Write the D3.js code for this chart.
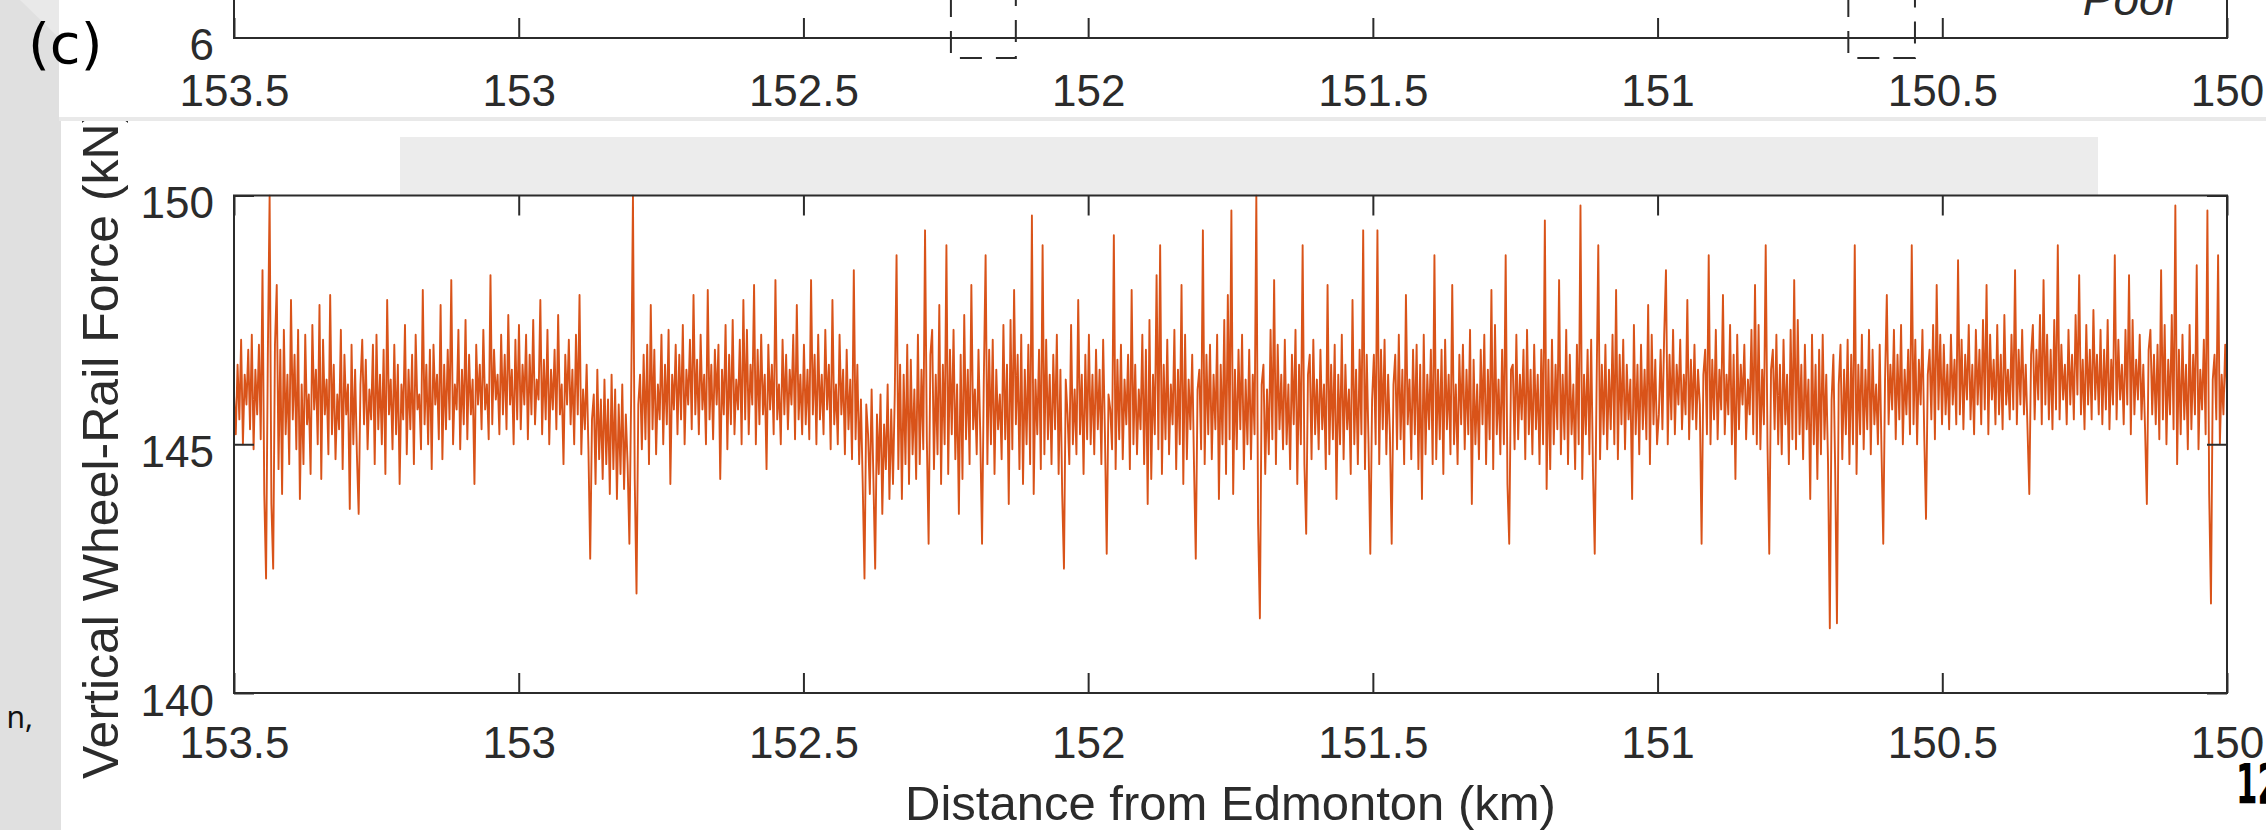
<!DOCTYPE html>
<html><head><meta charset="utf-8">
<script src="https://cdn.jsdelivr.net/npm/d3@7"></script>
<style>
html,body{margin:0;padding:0;background:#e0e0e0;overflow:hidden}
svg{display:block}
.tick text{font-family:"Liberation Sans",Arial,sans-serif;fill:#2b2b2b}
</style></head>
<body>
<svg id="chart" width="2266" height="830"></svg>
<script>
// ---------- data ----------
const xTicks = [153.5, 153, 152.5, 152, 151.5, 151, 150.5, 150];
const yTicks = [140, 145, 150];
const topYTicks = [6];
const distStart = 153.5, distEnd = 150;
const poorZones = [[152.241, 152.127], [150.665, 150.548]];
const poorLabel = "Poor";
const xLabel = "Distance from Edmonton (km)";
const yLabel = "Vertical Wheel-Rail Force (kN)";

// vertical wheel-rail force (kN), one list per half-kilometre
const force153_5 = [
146.0,145.2,146.6,145.5,147.1,145.0,146.4,145.8,146.9,145.3,
147.2,144.9,146.5,145.6,147.0,145.1,148.5,144.0,142.3,146.8,
150.0,143.8,142.5,147.0,148.2,144.5,146.9,144.0,147.3,145.2,
146.4,144.6,147.9,145.5,146.8,144.9,147.3,143.9,146.2,144.6,
147.2,145.4,146.0,144.4,147.4,145.7,146.5,145.0,147.8,144.3,
147.1,145.6,146.3,144.8,148.0,145.2,146.6,144.7,146.0,145.3,
147.3,144.5,146.8,145.6,146.2,143.7,147.0,145.0,146.5,144.8,
143.6,146.2,147.1,145.4,146.7,144.9,146.1,145.5,147.0,144.6,
147.2,145.3,146.4,145.0,146.9,144.4,147.9,145.6,146.3,144.9,
147.0,145.2,146.6,144.2,146.2,145.5,147.4,144.8,146.5,145.3,
146.8,144.6,147.2,145.7,146.0,144.9,148.1,145.4,146.6,145.0,
146.9,144.5,147.0,145.8,146.4,145.1,147.8,144.7,146.6,145.3,
146.9,145.5,148.3,145.0,146.2,145.7,147.3,144.9,146.5,145.4,
147.5,145.1,146.8,145.6,146.3,144.2,147.0,145.8,146.6,145.3,
147.3,145.7,146.2,145.1,148.4,145.4,146.9,145.9,146.4,145.2,
147.2,145.6,146.8,145.3,147.6,145.8,146.5,145.0,147.1,145.5];
const force153_0 = [
147.4,145.3,146.6,145.8,147.2,145.1,146.8,145.6,147.5,145.4,
146.3,145.9,147.9,145.2,146.7,145.5,147.3,145.0,146.5,145.7,
146.9,145.3,147.6,145.6,146.2,144.6,146.8,145.8,147.1,145.4,
146.5,145.0,147.2,145.6,148.0,144.8,146.1,145.3,146.6,144.9,
142.7,145.5,146.0,144.2,146.5,144.7,145.9,144.3,146.3,144.6,
145.9,144.0,146.4,144.5,146.1,143.9,145.8,144.4,146.2,144.1,
145.6,144.6,143.0,146.0,150.0,144.3,142.0,145.8,146.4,144.9,
146.8,145.1,147.0,144.6,147.8,145.3,146.9,144.8,146.2,145.5,
147.2,145.0,146.6,145.4,147.3,144.2,146.4,145.7,147.0,145.2,
146.8,145.5,147.4,145.0,146.5,145.8,147.1,145.3,148.0,145.6,
146.7,145.2,147.2,145.7,146.4,145.0,148.1,145.5,146.6,145.1,
146.9,145.8,147.0,144.3,146.5,145.6,147.4,144.9,146.8,145.4,
147.5,145.2,146.3,145.7,147.1,145.0,147.9,145.5,147.3,145.2,
146.6,145.8,148.2,145.0,146.9,145.4,147.2,145.6,146.4,144.5,
147.0,145.7,146.6,145.2,148.3,145.5,146.2,145.0,147.1,145.6,
146.8,145.3,146.5,145.8,147.2,145.1,147.8,145.5,146.4,145.2];
const force152_5 = [
147.0,145.4,146.5,145.1,148.3,145.6,146.8,145.0,147.2,145.5,
146.4,145.2,147.3,145.7,146.6,144.9,147.9,145.4,146.2,145.0,
147.2,145.6,146.5,144.8,146.9,145.3,146.3,144.7,148.5,145.1,
146.6,144.6,145.9,144.2,142.3,145.8,145.2,144.0,146.1,144.3,
142.5,145.6,144.4,146.0,143.6,145.4,144.5,146.2,143.9,145.7,
144.2,146.0,148.8,144.5,146.6,143.9,146.4,144.6,147.0,144.2,
146.7,144.8,146.1,144.3,147.2,144.6,146.5,144.9,149.3,145.1,
143.0,146.8,147.3,144.5,146.4,144.8,147.8,144.2,146.6,145.0,
149.0,144.4,146.9,145.2,147.3,144.7,146.2,143.6,146.8,144.3,
147.6,145.1,146.5,144.6,148.2,145.3,146.1,144.8,146.9,145.2,
143.0,146.3,148.8,144.6,146.9,145.0,147.1,144.4,146.5,145.3,
146.0,144.7,147.4,145.1,146.6,143.8,147.5,144.9,148.1,145.4,
146.8,144.5,147.2,144.2,146.5,145.0,147.0,144.6,149.6,144.0,
146.3,145.2,146.9,144.5,149.0,144.8,147.1,145.1,146.4,144.6,
146.8,145.3,147.2,144.4,146.5,144.0,142.5,146.3,145.6,144.6,
147.4,145.0,146.1,144.8,147.9,145.2,146.4,144.4,146.8,145.1];
const force152_0 = [
147.2,145.0,146.4,144.8,146.9,145.3,146.5,144.6,147.1,145.2,
142.8,146.0,145.7,144.9,149.2,144.5,146.7,145.1,147.0,144.7,
146.3,145.4,146.8,144.5,148.1,145.0,146.6,144.8,146.1,145.3,
147.2,144.6,146.9,143.8,147.5,144.3,146.4,145.2,148.4,144.9,
149.0,144.4,146.6,145.1,147.1,144.8,146.2,145.4,147.3,144.5,
146.5,145.0,148.2,144.2,147.2,144.7,146.3,145.3,146.8,144.6,
142.7,146.1,146.5,144.9,149.3,144.6,146.8,145.2,147.0,144.7,
146.4,145.3,147.2,143.9,146.6,145.0,147.5,144.4,148.0,145.1,
149.7,144.0,146.5,144.9,146.9,145.3,147.2,144.5,146.3,145.0,
146.9,144.7,146.4,145.2,150.0,143.4,141.5,146.2,146.6,144.4,
146.1,144.8,147.3,145.1,148.3,144.6,147.0,145.3,146.4,144.9,
147.1,145.0,146.2,144.5,146.8,145.4,147.3,144.2,146.6,145.0,
149.0,144.6,143.2,146.4,146.8,144.7,147.1,145.2,146.3,144.9,
146.9,145.3,146.2,144.5,148.2,144.8,146.6,145.1,147.0,143.9,
146.4,145.0,147.2,144.7,146.6,145.3,146.1,144.4,147.9,145.0,
146.5,144.6,146.9,145.2,149.3,144.5,146.8,145.0,142.8,145.9];
const force151_5 = [
146.8,145.0,149.3,144.6,146.9,145.3,147.1,144.8,146.4,145.2,
143.0,146.2,146.8,144.9,147.2,145.1,146.5,144.6,148.0,145.4,
146.3,144.7,146.9,145.2,147.0,144.5,146.6,143.9,147.2,144.8,
146.4,145.3,146.9,144.6,148.8,144.7,146.5,145.1,146.9,144.4,
147.1,145.3,146.4,144.8,148.2,145.0,146.2,144.6,146.8,145.4,
147.0,144.9,146.5,145.2,147.3,143.8,146.7,145.0,146.2,144.7,
146.9,145.4,147.2,144.6,146.5,145.1,148.1,144.5,147.4,145.2,
146.3,144.8,146.9,145.0,148.8,144.2,143.0,146.5,146.6,144.9,
147.2,145.1,146.4,145.5,146.9,144.7,147.3,145.2,146.5,144.8,
147.0,145.3,146.4,144.6,146.9,145.0,149.5,144.1,146.7,144.5,
147.1,145.0,146.6,145.3,148.3,144.8,146.4,145.1,147.3,144.6,
146.8,145.2,146.2,144.5,147.0,145.0,149.8,144.3,146.4,145.2,
146.9,144.8,147.1,144.5,142.8,146.0,149.0,144.7,146.6,145.2,
147.0,144.9,146.5,145.3,147.2,145.0,148.1,144.7,146.8,145.4,
147.1,144.9,146.6,145.5,146.3,143.9,147.4,145.2,146.6,144.8,
147.0,145.3,146.5,145.1,147.8,144.6,147.2,145.4,146.7,145.0];
const force151_0 = [
145.6,146.9,145.3,147.2,148.5,145.0,146.8,145.5,147.3,145.2,
146.6,145.8,147.1,145.3,146.4,145.6,147.9,145.1,146.7,145.5,
147.0,145.3,146.5,145.8,143.0,146.4,146.9,145.2,148.8,145.0,
146.7,145.5,147.3,145.1,146.5,145.7,148.0,145.2,146.4,145.6,
147.4,145.0,146.8,144.3,147.2,145.3,146.6,145.8,147.0,145.1,
146.3,145.6,147.3,145.2,148.2,145.0,147.4,144.9,146.5,145.4,
149.0,145.0,142.8,146.5,146.9,145.3,147.2,145.0,146.6,144.8,
147.1,145.4,146.4,144.6,147.3,145.1,148.3,144.9,147.5,145.2,
146.6,144.7,147.0,145.3,146.3,143.9,147.2,145.0,146.6,144.3,
146.9,144.8,147.2,145.1,146.4,144.6,141.3,145.9,146.8,144.5,
141.4,146.2,147.0,144.7,146.5,145.2,147.1,144.6,146.8,145.0,
149.0,144.4,146.6,145.2,147.2,144.9,146.5,145.3,147.3,144.8,
146.9,145.4,146.2,145.0,147.0,144.9,143.0,146.3,148.0,145.4,
146.6,145.7,147.3,145.1,146.8,145.5,147.4,145.0,146.5,145.6,
146.9,145.2,149.0,145.4,147.1,145.0,146.7,145.8,147.3,145.2,
143.5,146.4,146.9,145.5,147.4,145.1,148.2,145.7,147.2,145.4];
const force150_5 = [
147.0,145.6,146.6,145.3,147.2,145.8,146.7,145.4,148.7,145.6,
147.1,145.3,146.8,145.9,147.4,145.5,146.6,145.2,147.3,145.8,
146.9,145.4,147.5,145.7,148.2,145.2,147.2,145.9,146.7,145.4,
147.4,145.6,146.8,145.3,147.6,145.8,146.5,145.5,147.2,145.7,
148.5,145.4,146.9,145.8,147.3,145.6,146.6,145.3,144.0,146.8,
147.4,145.5,146.9,145.9,147.6,145.4,148.3,145.8,147.2,145.5,
146.9,145.3,147.5,145.7,149.0,145.5,147.0,145.9,146.6,145.4,
147.3,145.8,146.8,145.5,147.6,146.0,148.4,145.6,146.7,145.3,
147.4,145.8,146.9,145.5,147.7,145.9,146.8,145.6,147.3,145.4,
146.9,145.7,147.5,145.3,146.7,145.8,148.8,145.5,147.1,145.9,
146.6,145.4,147.3,145.8,148.4,145.2,147.5,145.6,146.7,145.9,
147.2,145.5,146.6,145.3,143.8,146.9,147.3,145.6,146.8,145.4,
147.0,145.1,148.5,145.5,147.4,145.0,146.7,145.6,147.6,145.3,
149.8,144.6,146.9,145.2,147.2,145.5,146.6,144.9,147.4,145.3,
146.8,145.6,148.6,144.9,146.5,145.7,147.1,145.2,149.7,144.0,
141.8,146.3,146.8,145.5,148.8,145.0,146.4,145.6,147.0,146.0];

const force = [].concat(force153_5, force153_0, force152_5, force152_0, force151_5, force151_0, force150_5);
const dist = d3.range(force.length).map(i => distStart - i * (distStart - distEnd) / (force.length - 1));

// ---------- drawing ----------
const svg = d3.select("#chart");
const ink = "#2b2b2b";
const tickFont = 44;
const sans = "Liberation Sans, Arial, sans-serif";

// slide background pieces
svg.append("rect").attr("x", 0).attr("y", 0).attr("width", 2266).attr("height", 830).attr("fill", "#e0e0e0");
svg.append("polygon").attr("points", "20,0 59,0 59,38").attr("fill", "#e9e9e9");
svg.append("rect").attr("x", 59).attr("y", 0).attr("width", 2207).attr("height", 117).attr("fill", "#ffffff");
svg.append("rect").attr("x", 59).attr("y", 117).attr("width", 2207).attr("height", 4).attr("fill", "#e9e9e9");
svg.append("rect").attr("x", 61).attr("y", 121).attr("width", 2205).attr("height", 709).attr("fill", "#ffffff");

const plot = {left: 234, right: 2227, top: 195.5, bottom: 693};
const x = d3.scaleLinear().domain([distStart, distEnd]).range([plot.left, plot.right]);
const y = d3.scaleLinear().domain([140, 150]).range([plot.bottom, plot.top]);

// ---- top (previous) panel, only its bottom edge is visible ----
const topAxisY = 38;
const topG = svg.append("g");
topG.append("path").attr("d", `M${x(distStart)},0V${topAxisY}H${x(distEnd)}V0`)
  .attr("fill", "none").attr("stroke", ink).attr("stroke-width", 2);
const topAxis = topG.append("g").attr("transform", `translate(0,${topAxisY})`)
  .call(d3.axisBottom(x).tickValues(xTicks).tickSizeInner(-20).tickSizeOuter(0).tickPadding(37).tickFormat(d => String(d)));
topAxis.select(".domain").remove();
topAxis.selectAll(".tick line").attr("stroke", ink).attr("stroke-width", 2);
topAxis.selectAll(".tick text").attr("font-size", tickFont).attr("fill", ink);
topG.selectAll("text.ytop").data(topYTicks).enter().append("text").attr("class", "ytop")
  .attr("x", x(distStart) - 20).attr("y", topAxisY).attr("dy", "0.5em")
  .attr("text-anchor", "end").attr("font-family", sans)
  .attr("font-size", tickFont).attr("fill", ink).text(d => d);
topG.selectAll("path.zone").data(poorZones).enter().append("path").attr("class", "zone")
  .attr("d", d => `M${x(d[0])},-5V58H${x(d[1])}V-5`)
  .attr("fill", "none").attr("stroke", ink).attr("stroke-width", 2).attr("stroke-dasharray", "22,14");
topG.append("text").attr("x", 2180).attr("y", 15).attr("text-anchor", "end")
  .attr("font-family", sans).attr("font-style", "italic")
  .attr("font-size", 46).attr("fill", ink).text(poorLabel);

// ---- main panel ----
// grey bar hiding the title
svg.append("rect").attr("x", 400).attr("y", 137).attr("width", 1698).attr("height", 58).attr("fill", "#ececec");

svg.append("clipPath").attr("id", "plotClip").append("rect")
  .attr("x", plot.left).attr("y", plot.top - 1).attr("width", plot.right - plot.left).attr("height", plot.bottom - plot.top + 2);

svg.append("path").datum(force)
  .attr("clip-path", "url(#plotClip)")
  .attr("d", d3.line().x((d, i) => x(dist[i])).y(d => y(d)))
  .attr("fill", "none").attr("stroke", "#d95319").attr("stroke-width", 1.9).attr("stroke-linejoin", "round");

function styleAxis(g, labels) {
  g.select(".domain").remove();
  g.selectAll(".tick line").attr("stroke", ink).attr("stroke-width", 2);
  if (labels) g.selectAll(".tick text").attr("font-size", tickFont).attr("fill", ink);
  else g.selectAll(".tick text").remove();
}
const gxB = svg.append("g").attr("transform", `translate(0,${plot.bottom})`)
  .call(d3.axisBottom(x).tickValues(xTicks).tickSizeInner(-20).tickSizeOuter(0).tickPadding(34).tickFormat(d => String(d)));
styleAxis(gxB, true);
const gxT = svg.append("g").attr("transform", `translate(0,${plot.top})`)
  .call(d3.axisTop(x).tickValues(xTicks).tickSizeInner(-20).tickSizeOuter(0));
styleAxis(gxT, false);
const gyL = svg.append("g").attr("transform", `translate(${plot.left},0)`)
  .call(d3.axisLeft(y).tickValues(yTicks).tickSizeInner(-20).tickSizeOuter(0).tickPadding(20).tickFormat(d => String(d)));
styleAxis(gyL, true);
gyL.selectAll(".tick text").attr("dy", "0.5em");
const gyR = svg.append("g").attr("transform", `translate(${plot.right},0)`)
  .call(d3.axisRight(y).tickValues(yTicks).tickSizeInner(-20).tickSizeOuter(0));
styleAxis(gyR, false);

svg.append("rect").attr("x", plot.left).attr("y", plot.top)
  .attr("width", plot.right - plot.left).attr("height", plot.bottom - plot.top)
  .attr("fill", "none").attr("stroke", ink).attr("stroke-width", 2);

// axis labels
svg.append("text").attr("x", (plot.left + plot.right) / 2).attr("y", 820).attr("text-anchor", "middle")
  .attr("font-family", sans).attr("font-size", 49).attr("fill", ink).text(xLabel);
svg.append("clipPath").attr("id", "ylabClip").append("rect").attr("x", 61).attr("y", 121).attr("width", 200).attr("height", 709);
svg.append("g").attr("clip-path", "url(#ylabClip)").append("text")
  .attr("transform", "translate(118,779) rotate(-90)").attr("text-anchor", "start")
  .attr("font-family", sans).attr("font-size", 50).attr("fill", ink).text(yLabel);

// slide texts
svg.append("text").attr("x", 28).attr("y", 63).attr("font-family", "DejaVu Sans, sans-serif")
  .attr("font-size", 56).attr("fill", "#000").text("(c)");
svg.append("text").attr("x", 33).attr("y", 728).attr("text-anchor", "end").attr("font-family", "Noto Sans, sans-serif")
  .attr("font-size", 30).attr("fill", "#111").text("n,");
svg.append("text").attr("transform", "translate(2236,803) scale(0.55,1)")
  .attr("font-family", "DejaVu Sans, sans-serif")
  .attr("font-weight", "bold").attr("font-size", 56).attr("fill", "#000").text("12");
</script>
</body></html>
